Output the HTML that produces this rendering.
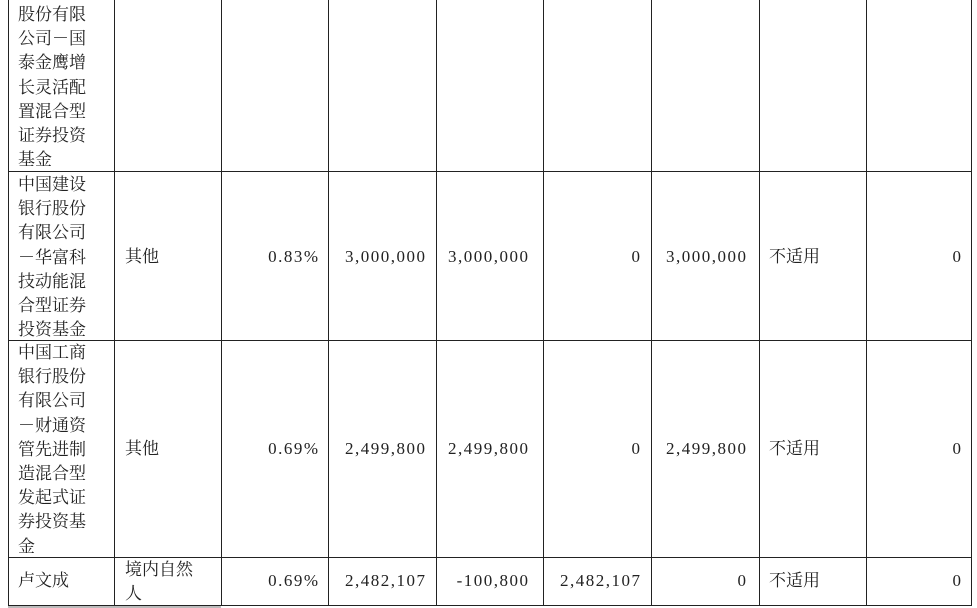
<!DOCTYPE html>
<html><head><meta charset="utf-8"><style>
body{margin:0;width:977px;height:608px;background:#fff;position:relative;overflow:hidden;font-family:"Liberation Serif","Noto Serif CJK SC",serif;font-size:17px;color:#222}
.h{position:absolute;height:1px;background:#222}
.v{position:absolute;width:1px;background:#222}
.t{position:absolute;line-height:24.2px;white-space:nowrap}
.r{text-align:right;letter-spacing:1.5px;margin-right:-1.5px}
</style></head><body>
<div class="v" style="left:8px;top:0;height:606px"></div>
<div class="v" style="left:114px;top:0;height:606px"></div>
<div class="v" style="left:221px;top:0;height:606px"></div>
<div class="v" style="left:328px;top:0;height:606px"></div>
<div class="v" style="left:436px;top:0;height:606px"></div>
<div class="v" style="left:543px;top:0;height:606px"></div>
<div class="v" style="left:651px;top:0;height:606px"></div>
<div class="v" style="left:759px;top:0;height:606px"></div>
<div class="v" style="left:866px;top:0;height:606px"></div>
<div class="v" style="left:971px;top:0;height:606px"></div>
<div class="h" style="left:8px;top:171px;width:964px"></div>
<div class="h" style="left:8px;top:340px;width:964px"></div>
<div class="h" style="left:8px;top:557px;width:964px"></div>
<div class="h" style="left:8px;top:605px;width:964px"></div>
<div style="position:absolute;left:8px;top:606px;width:213px;height:2px;background:#bbb"></div>

<div class="t" style="left:18px;top:3px">股份有限<br>公司－国<br>泰金鹰增<br>长灵活配<br>置混合型<br>证券投资<br>基金</div>

<div class="t" style="left:18px;top:173px">中国建设<br>银行股份<br>有限公司<br>－华富科<br>技动能混<br>合型证券<br>投资基金</div>
<div class="t" style="left:125px;top:245px">其他</div>
<div class="t r" style="right:659px;top:245px">0.83%</div>
<div class="t r" style="right:552px;top:245px">3,000,000</div>
<div class="t r" style="right:449px;top:245px">3,000,000</div>
<div class="t r" style="right:337px;top:245px">0</div>
<div class="t r" style="right:231px;top:245px">3,000,000</div>
<div class="t" style="left:769px;top:245px">不适用</div>
<div class="t r" style="right:16px;top:245px">0</div>

<div class="t" style="left:18px;top:341px">中国工商<br>银行股份<br>有限公司<br>－财通资<br>管先进制<br>造混合型<br>发起式证<br>券投资基<br>金</div>
<div class="t" style="left:125px;top:437px">其他</div>
<div class="t r" style="right:659px;top:437px">0.69%</div>
<div class="t r" style="right:552px;top:437px">2,499,800</div>
<div class="t r" style="right:449px;top:437px">2,499,800</div>
<div class="t r" style="right:337px;top:437px">0</div>
<div class="t r" style="right:231px;top:437px">2,499,800</div>
<div class="t" style="left:769px;top:437px">不适用</div>
<div class="t r" style="right:16px;top:437px">0</div>

<div class="t" style="left:18px;top:569px">卢文成</div>
<div class="t" style="left:125px;top:558px">境内自然<br>人</div>
<div class="t r" style="right:659px;top:569px">0.69%</div>
<div class="t r" style="right:552px;top:569px">2,482,107</div>
<div class="t r" style="right:449px;top:569px">-100,800</div>
<div class="t r" style="right:337px;top:569px">2,482,107</div>
<div class="t r" style="right:231px;top:569px">0</div>
<div class="t" style="left:769px;top:569px">不适用</div>
<div class="t r" style="right:16px;top:569px">0</div>
</body></html>
